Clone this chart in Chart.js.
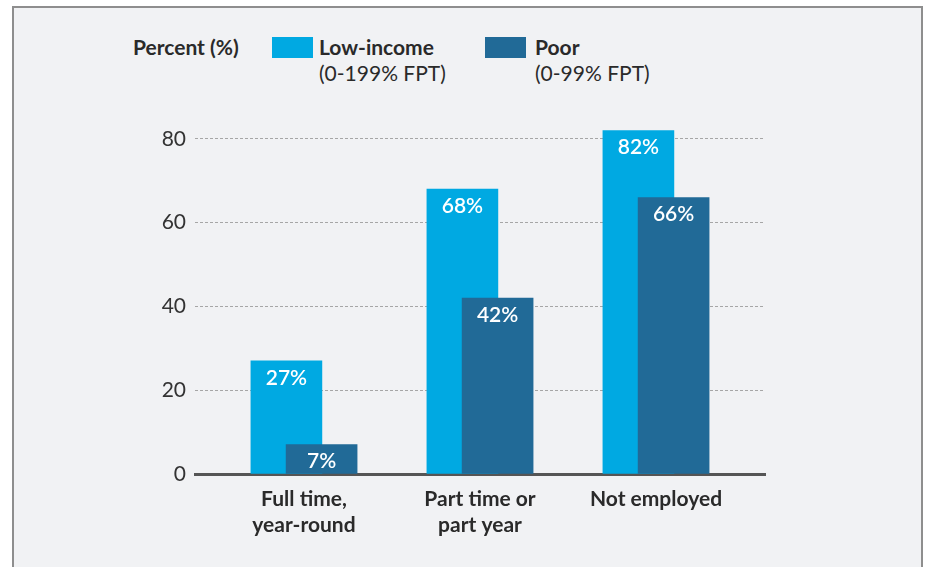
<!DOCTYPE html>
<html>
<head>
<meta charset="utf-8">
<script src="https://cdn.jsdelivr.net/npm/chart.js@4.4.1/dist/chart.umd.min.js"></script>
<style>
  html, body { margin: 0; padding: 0; background: #ffffff; width: 928px; height: 567px; overflow: hidden; font-family: Lato, "Open Sans", sans-serif; }
  #frame { position: absolute; left: 12px; top: 6px; width: 907px; height: 600px; border: 2px solid #8e8e8e; background: #f1f2f4; }
  #chart { position: absolute; left: 0; top: 0; }
  .lg { position: absolute; font-size: 21px; line-height: 26px; color: #2a2a2a; white-space: nowrap; }
  .lg .name { font-weight: 700; }
  .sw { position: absolute; width: 41px; height: 21px; }
</style>
</head>
<body>
<div id="frame"></div>
<div class="lg" id="axisTitle" style="left:133px; top:34px; font-weight:700;"></div>
<div class="sw" id="sw0" style="left:272px; top:37px;"></div>
<div class="lg" id="lg0" style="left:319px; top:34px;"></div>
<div class="sw" id="sw1" style="left:485px; top:37px;"></div>
<div class="lg" id="lg1" style="left:535px; top:34px;"></div>
<canvas id="chart" width="928" height="567"></canvas>
<script>
// Employment categories (multi-line tick labels)
const categories = [['Full time,', 'year-round'], ['Part time or', 'part year'], ['Not employed']];
// Share of each group, percent
const lowIncome = [27, 68, 82];
const poor = [7, 42, 66];
// Value axis ticks
const yTicks = [0, 20, 40, 60, 80];
// Legend text
const axisLabel = 'Percent (%)';
const seriesNames = ['Low-income', 'Poor'];
const seriesNotes = ['(0-199% FPT)', '(0-99% FPT)'];

const COLORS = ['#00a9e2', '#216a97'];
const SHIFT = 0.1; // half-overlap offset of the two bars within a group

// HTML legend
document.getElementById('axisTitle').textContent = axisLabel;
seriesNames.forEach((name, i) => {
  document.getElementById('sw' + i).style.background = COLORS[i];
  const el = document.getElementById('lg' + i);
  const a = document.createElement('div'); a.className = 'name'; a.textContent = name;
  const b = document.createElement('div'); b.textContent = seriesNotes[i];
  el.appendChild(a); el.appendChild(b);
});

// White value labels at the top of each bar
const valueLabels = {
  id: 'valueLabels',
  afterDatasetsDraw(chart) {
    const ctx = chart.ctx;
    ctx.save();
    ctx.font = '600 21px Lato, "Open Sans", sans-serif';
    ctx.fillStyle = '#ffffff';
    ctx.textAlign = 'center';
    ctx.textBaseline = 'middle';
    chart.data.datasets.forEach((ds, di) => {
      const meta = chart.getDatasetMeta(di);
      meta.data.forEach((bar, i) => {
        ctx.fillText(ds.data[i].y + '%', bar.x, bar.y + 17);
      });
    });
    ctx.restore();
  }
};

new Chart(document.getElementById('chart'), {
  type: 'bar',
  data: {
    datasets: [
      {
        label: seriesNames[0],
        data: lowIncome.map((v, i) => ({ x: i - SHIFT, y: v })),
        backgroundColor: COLORS[0],
        order: 1
      },
      {
        label: seriesNames[1],
        data: poor.map((v, i) => ({ x: i + SHIFT, y: v })),
        backgroundColor: COLORS[1],
        order: 0
      }
    ]
  },
  options: {
    responsive: false,
    animation: false,
    grouped: false,
    barThickness: 71,
    layout: { padding: { top: 118, right: 163, left: 0, bottom: 0 } },
    plugins: { legend: { display: false }, tooltip: { enabled: false } },
    scales: {
      x: {
        type: 'linear',
        offset: false,
        min: -0.6193,
        max: 2.6193,
        afterBuildTicks: s => { s.ticks = categories.map((c, i) => ({ value: i })); },
        afterFit: s => { s.height = 93; },
        ticks: {
          callback: v => categories[v],
          font: { family: 'Lato', size: 21, weight: 'bold', lineHeight: 1.24 },
          color: '#2a2a2a',
          padding: 12,
          autoSkip: false,
          maxRotation: 0
        },
        grid: { display: false, drawTicks: false },
        border: { display: true, color: '#555555', width: 3 }
      },
      y: {
        min: 0,
        max: 85,
        afterBuildTicks: s => { s.ticks = yTicks.map(v => ({ value: v })); },
        afterFit: s => { s.width = 195; },
        ticks: { font: { family: 'Lato', size: 21 }, color: '#333333', padding: 9 },
        grid: {
          color: c => (c.tick && c.tick.value === 0) ? 'rgba(0,0,0,0)' : '#a6a6a6',
          lineWidth: 1,
          drawTicks: false
        },
        border: { display: false, dash: [3, 2] }
      }
    }
  },
  plugins: [valueLabels]
});
</script>
</body>
</html>
